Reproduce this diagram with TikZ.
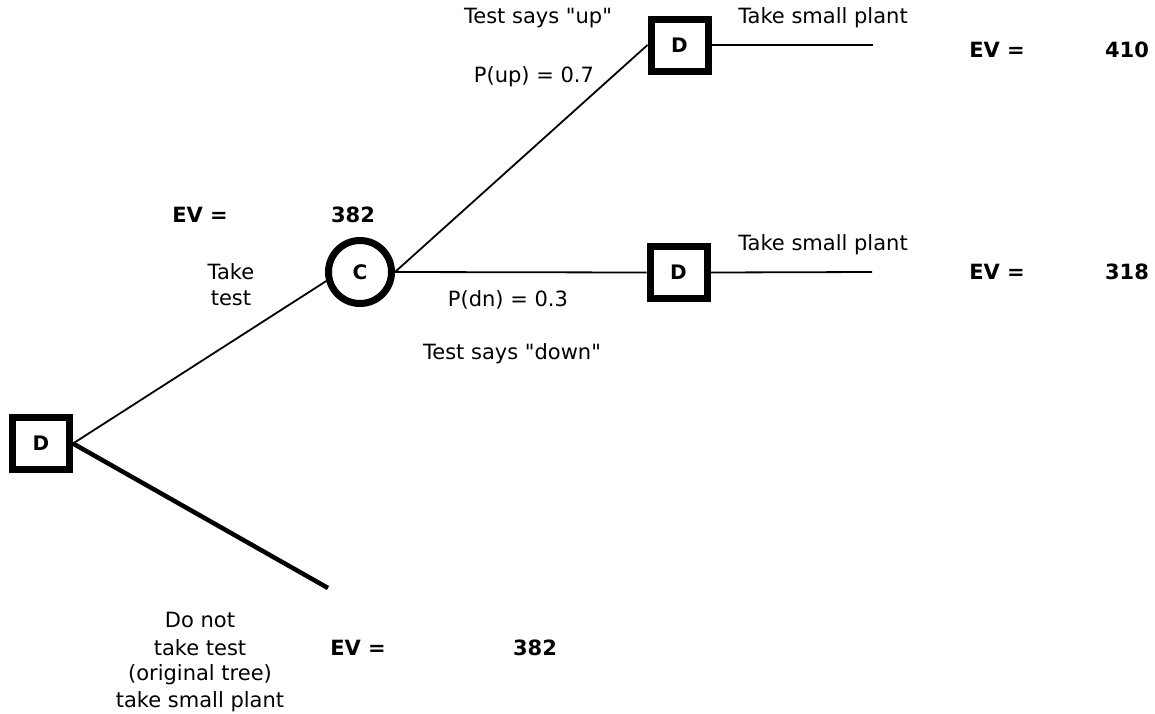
\documentclass[tikz,border=0pt]{standalone}
\usepackage{fontspec}
\setmainfont{DejaVu Sans}[Ligatures=TeXOff]
\begin{document}
\begin{tikzpicture}[x=1pt,y=-1pt,
  dbox/.style={draw,line width=7pt,minimum width=57pt,minimum height=52pt,inner sep=0pt,font=\fontsize{20}{24}\selectfont\bfseries},
  cnode/.style={draw,circle,line width=7pt,minimum size=63pt,inner sep=0pt,font=\fontsize{20}{24}\selectfont\bfseries},
  branch/.style={line width=1.8pt},
  thickbranch/.style={line width=4.5pt},
  lbl/.style={font=\fontsize{21}{27}\selectfont,inner sep=0pt,align=center},
  ev/.style={font=\fontsize{21}{27}\selectfont\bfseries,inner sep=0pt}]
\useasboundingbox (0,0) rectangle (1155,713);
\node[dbox] (D1) at (41,443.5) {D};
\node[cnode] (C) at (360,272) {C};
\node[dbox] (D2) at (679.5,45) {D};
\node[dbox] (D3) at (678.5,272.5) {D};
\coordinate (E1) at (873,45);
\coordinate (E2) at (872,272);
\coordinate (E3) at (328,588);
\draw[branch] (D1.east) -- (C.195);
\draw[thickbranch] (D1.east) -- (E3);
\draw[branch] (C.east) -- (D2.west);
\draw[branch] (C.east) -- (D3.west);
\draw[branch] (D2.east) -- (E1);
\draw[branch] (D3.east) -- (E2);
\node[lbl] (t1) at (538,18) {Test says "up"};
\node[lbl] (t2) at (534,77) {P(up) = 0.7};
\node[lbl] (t3) at (823,18) {Take small plant};
\node[lbl] (t4) at (823,245) {Take small plant};
\node[ev] (ev1) at (997,50) {EV =};
\node[ev] (v1) at (1127,50) {410};
\node[ev] (ev2) at (997,272) {EV =};
\node[ev] (v2) at (1127,272) {318};
\node[ev] (ev3) at (200,215) {EV =};
\node[ev] (v3) at (353,215) {382};
\node[lbl] (t5) at (231,272) {Take};
\node[lbl] (t6) at (231,298) {test};
\node[lbl] (t7) at (508,300) {P(dn) = 0.3};
\node[lbl] (t8) at (512,354) {Test says "down"};
\node[lbl] (t9) at (200,620) {Do not};
\node[lbl] (t10) at (200,648) {take test};
\node[lbl] (t11) at (200,675) {(original tree)};
\node[lbl] (t12) at (200,702) {take small plant};
\node[ev] (ev4) at (358,648) {EV =};
\node[ev] (v4) at (535,648) {382};
\end{tikzpicture}
\end{document}
